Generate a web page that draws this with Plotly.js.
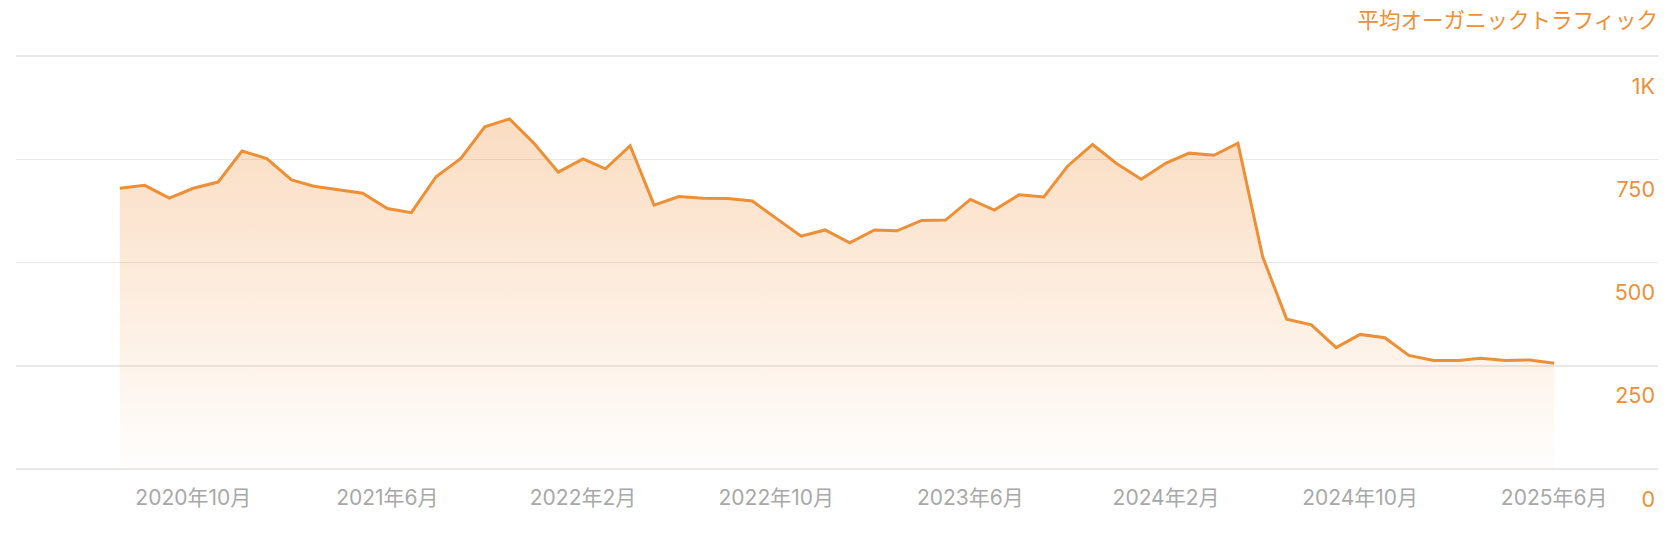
<!DOCTYPE html>
<html>
<head>
<meta charset="utf-8">
<script src="https://cdn.plot.ly/plotly-3.0.1.min.js"></script>
<style>
  html, body { margin: 0; padding: 0; background: #ffffff; }
  #chart { width: 1678px; height: 536px; }
</style>
</head>
<body>
<div id="chart"></div>
<script>
// Monthly dates, 2020-07 .. 2025-06
const months = [
  "2020-07-01","2020-08-01","2020-09-01","2020-10-01","2020-11-01","2020-12-01",
  "2021-01-01","2021-02-01","2021-03-01","2021-04-01","2021-05-01","2021-06-01",
  "2021-07-01","2021-08-01","2021-09-01","2021-10-01","2021-11-01","2021-12-01",
  "2022-01-01","2022-02-01","2022-03-01","2022-04-01","2022-05-01","2022-06-01",
  "2022-07-01","2022-08-01","2022-09-01","2022-10-01","2022-11-01","2022-12-01",
  "2023-01-01","2023-02-01","2023-03-01","2023-04-01","2023-05-01","2023-06-01",
  "2023-07-01","2023-08-01","2023-09-01","2023-10-01","2023-11-01","2023-12-01",
  "2024-01-01","2024-02-01","2024-03-01","2024-04-01","2024-05-01","2024-06-01",
  "2024-07-01","2024-08-01","2024-09-01","2024-10-01","2024-11-01","2024-12-01",
  "2025-01-01","2025-02-01","2025-03-01","2025-04-01","2025-05-01","2025-06-01"
];

// 平均オーガニックトラフィック
const traffic = [
  680, 687, 656, 680, 695, 770,
  752, 700, 685, 676, 668, 631,
  621, 708, 752, 829, 848, 790,
  719, 751, 727, 783, 639, 660,
  656, 655, 649, 607, 564, 579,
  548, 579, 577, 602, 603, 653,
  627, 664, 659, 734, 786, 740,
  702, 741, 765, 760, 789, 514,
  363, 349, 294, 326, 318, 275,
  263, 263, 268, 263, 264, 256
];

const xTickVals = ["2020-10-01","2021-06-01","2022-02-01","2022-10-01","2023-06-01","2024-02-01","2024-10-01","2025-06-01"];
const xTickText = ["2020年10月","2021年6月","2022年2月","2022年10月","2023年6月","2024年2月","2024年10月","2025年6月"];

const yTickVals = [0, 250, 500, 750, 1000];
const yTickText = ["0", "250", "500", "750", "1K"];

const seriesName = "平均オーガニックトラフィック";

const ORANGE = "#ef8f35";
const FONT = 'Inter, "Noto Sans CJK JP", "Noto Sans", sans-serif';

const trace = {
  type: "scatter",
  mode: "lines",
  x: months,
  y: traffic,
  name: seriesName,
  line: { color: ORANGE, width: 3 },
  fill: "tozeroy",
  fillgradient: {
    type: "vertical",
    start: 0,
    stop: 850,
    colorscale: [
      [0, "rgba(240,140,50,0.01)"],
      [0.6, "rgba(240,140,50,0.19)"],
      [1, "rgba(240,140,50,0.30)"]
    ]
  },
  hoverinfo: "x+y"
};

const layout = {
  width: 1678,
  height: 536,
  paper_bgcolor: "#ffffff",
  plot_bgcolor: "#ffffff",
  showlegend: false,
  margin: { l: 16, r: 20, t: 52, b: 67, pad: 0 },
  font: { family: FONT, size: 21, color: "#a8a8a8" },
  title: {
    text: seriesName,
    font: { family: FONT, size: 21.5, color: ORANGE },
    xref: "paper",
    x: 1,
    xanchor: "right",
    yref: "container",
    y: 0.961,
    yanchor: "middle"
  },
  xaxis: {
    type: "date",
    range: ["2020-02-22", "2025-10-09"],
    showgrid: false,
    zeroline: false,
    showline: false,
    tickmode: "array",
    tickvals: xTickVals,
    ticktext: xTickText,
    ticks: "",
    ticklabelstandoff: 14,
    tickfont: { family: FONT, size: 21, color: "#a8a8a8" },
    fixedrange: true
  },
  yaxis: {
    side: "right",
    range: [0, 1010],
    showgrid: true,
    gridcolor: "#e9e9e9",
    gridwidth: 1.6,
    zeroline: true,
    zerolinecolor: "#e9e9e9",
    zerolinewidth: 1.6,
    showline: false,
    tickmode: "array",
    tickvals: yTickVals,
    ticktext: yTickText,
    ticks: "",
    ticklabelposition: "inside",
    ticklabeloverflow: "allow",
    ticklabelshift: 30,
    ticklabelstandoff: 0,
    tickfont: { family: FONT, size: 21.5, color: ORANGE },
    fixedrange: true
  }
};

Plotly.newPlot("chart", [trace], layout, { displayModeBar: false, staticPlot: true });
</script>
</body>
</html>
